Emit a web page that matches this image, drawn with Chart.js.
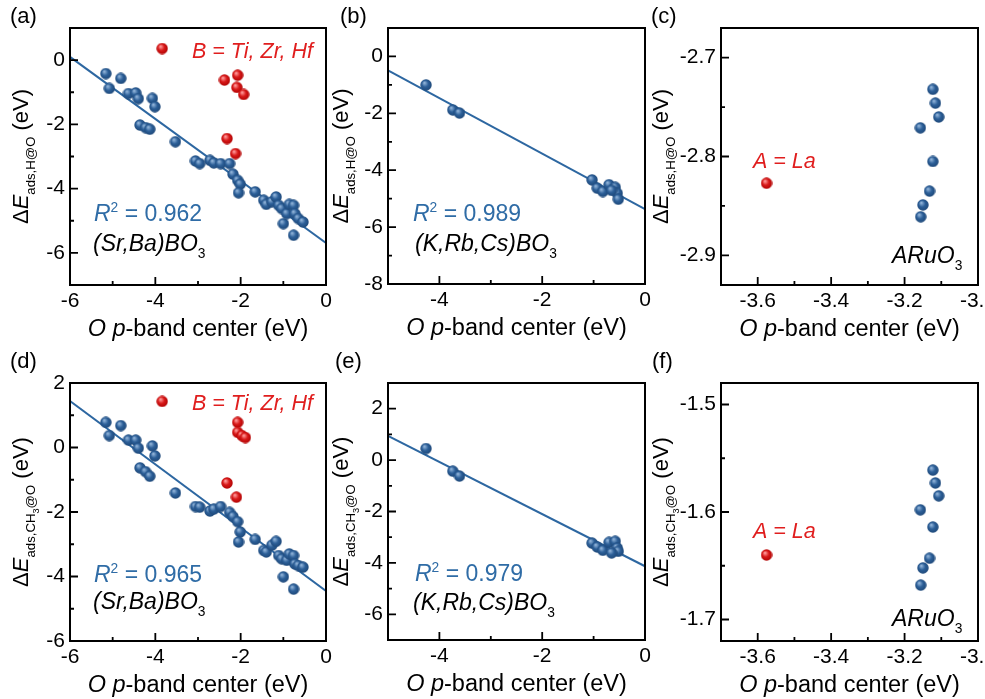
<!DOCTYPE html>
<html>
<head>
<meta charset="utf-8">
<script src="https://cdn.jsdelivr.net/npm/chart.js@4.4.1/dist/chart.umd.min.js"></script>
<style>
  html, body { margin: 0; padding: 0; background: #fff; }
  #wrap { position: relative; width: 985px; height: 699px; overflow: hidden; }
  #wrap canvas { position: absolute; left: 0; top: 0; }
</style>
</head>
<body>
<div id="wrap"></div>
<script>
// ================= DATA =================
// (a) H adsorption, (Sr,Ba)BO3
const aBlueX = [-5.16, -5.08, -4.81, -4.63, -4.46, -4.40, -4.07, -4.01, -4.36, -4.23, -4.13, -3.53, -3.06, -2.96, -2.72, -2.63, -2.47, -2.26, -2.18, -2.07, -2.01, -2.05, -1.66, -1.46, -1.40, -1.27, -1.17, -1.11, -1.04, -1.00, -0.92, -0.86, -0.76, -0.73, -0.65, -0.54, -0.76];
const aBlueY = [-0.42, -0.88, -0.57, -1.04, -1.02, -1.20, -1.19, -1.45, -2.02, -2.10, -2.15, -2.54, -3.14, -3.22, -3.12, -3.20, -3.22, -3.22, -3.55, -3.74, -3.86, -4.13, -4.10, -4.36, -4.49, -4.41, -4.26, -4.52, -4.62, -5.09, -4.78, -4.49, -4.52, -4.78, -4.93, -5.04, -5.45];
const aRedX = [-3.84, -2.38, -2.07, -2.09, -1.93, -2.32, -2.12];
const aRedY = [0.36, -0.62, -0.47, -0.85, -1.07, -2.44, -2.91];
const aFitX = [-6, 0];
const aFitY = [0.10, -5.69];

// (b) H adsorption, (K,Rb,Cs)BO3
const bBlueX = [-4.26, -3.74, -3.61, -1.03, -0.93, -0.82, -0.70, -0.58, -0.54, -0.52, -0.65];
const bBlueY = [-1.00, -1.88, -1.99, -4.34, -4.63, -4.75, -4.51, -4.60, -4.81, -5.02, -4.71];
const bFitX = [-5, 0];
const bFitY = [-0.49, -5.37];

// (c) H adsorption, ARuO3
const cBlueX = [-3.123, -3.116, -3.107, -3.157, -3.123, -3.132, -3.150, -3.156];
const cBlueY = [-2.732, -2.746, -2.760, -2.771, -2.805, -2.835, -2.849, -2.861];
const cRedX = [-3.576];
const cRedY = [-2.827];

// (d) CH3 adsorption, (Sr,Ba)BO3
const dBlueX = aBlueX;
const dBlueY = [0.78, 0.37, 0.68, 0.23, 0.23, -0.02, 0.05, -0.26, -0.63, -0.75, -0.89, -1.41, -1.83, -1.85, -1.97, -1.91, -1.83, -2.01, -2.14, -2.30, -2.62, -2.93, -2.85, -3.19, -3.24, -3.03, -2.91, -3.35, -3.45, -4.01, -3.50, -3.30, -3.35, -3.61, -3.66, -3.71, -4.39];
const dRedX = [-3.84, -2.07, -2.07, -1.97, -1.89, -2.32, -2.10];
const dRedY = [1.43, 0.78, 0.47, 0.37, 0.31, -1.10, -1.54];
const dFitX = [-6, 0];
const dFitY = [1.44, -4.45];

// (e) CH3 adsorption, (K,Rb,Cs)BO3
const eBlueX = bBlueX;
const eBlueY = [0.45, -0.43, -0.62, -3.23, -3.38, -3.51, -3.20, -3.16, -3.42, -3.55, -3.61];
const eFitX = [-5, 0];
const eFitY = [0.94, -4.13];

// (f) CH3 adsorption, ARuO3
const fBlueX = cBlueX;
const fBlueY = [-1.561, -1.573, -1.585, -1.598, -1.614, -1.643, -1.652, -1.668];
const fRedX = [-3.576];
const fRedY = [-1.640];

// tick values
const xTicksSrBa = [-6, -4, -2, 0],  xMinorSrBa = [-5, -3, -1];
const xTicksKRb = [-4, -2, 0],       xMinorKRb = [-3, -1];
const xTicksRu = [-3.6, -3.4, -3.2, -3.0], xMinorRu = [-3.5, -3.3, -3.1];
const yTicksA = [-6, -4, -2, 0],     yMinorA = [-5, -3, -1];
const yTicksB = [-8, -6, -4, -2, 0], yMinorB = [-7, -5, -3, -1];
const yTicksC = [-2.9, -2.8, -2.7],  yMinorC = [-2.85, -2.75];
const yTicksD = [-6, -4, -2, 0, 2],  yMinorD = [-5, -3, -1, 1];
const yTicksE = [-6, -4, -2, 0, 2],  yMinorE = [-5, -3, -1, 1];
const yTicksF = [-1.7, -1.6, -1.5],  yMinorF = [-1.65, -1.55];

// ================= HELPERS =================
const W = 985, H = 699;
const FONT = '"Liberation Sans", Arial, Helvetica, sans-serif';
const BLUE_TXT = '#2f6ca6';
const RED_TXT = '#e01e1e';
const LINE_COL = '#2d67a1';

function zip(xs, ys) {
    return xs.map((x, i) => ({ x: x, y: ys[i] }));
}

function sphere(light, base, dark, d) {
    const c = document.createElement('canvas');
    c.width = d; c.height = d;
    const g = c.getContext('2d');
    const grad = g.createRadialGradient(d * 0.36, d * 0.32, d * 0.04, d * 0.5, d * 0.5, d * 0.55);
    grad.addColorStop(0, light);
    grad.addColorStop(0.45, base);
    grad.addColorStop(1, dark);
    g.fillStyle = grad;
    g.beginPath();
    g.arc(d / 2, d / 2, d / 2 - 0.3, 0, Math.PI * 2);
    g.fill();
    return c;
}
const blueBall = sphere('#8fb2d8', '#2c5f98', '#1b4372', 12);
const redBall = sphere('#ff9a9a', '#d81818', '#a80000', 12);

// draws a line of mixed italic / sub / sup text; y is the baseline
function drawRich(ctx, parts, x, y, fs, color, align) {
    const items = parts.map(p => {
        let size = fs, dy = 0;
        if (p.sub) { size = fs * 0.6; dy = fs * 0.3; }
        if (p.sup) { size = fs * 0.6; dy = -fs * 0.42; }
        if (p.subsub) { size = fs * 0.42; dy = fs * 0.48; }
        const font = (p.it ? 'italic ' : '') + size.toFixed(1) + 'px ' + FONT;
        ctx.font = font;
        return { t: p.t, font: font, dy: dy, w: ctx.measureText(p.t).width };
    });
    const total = items.reduce((s, it) => s + it.w, 0);
    let cx = align === 'center' ? x - total / 2 : x;
    ctx.textAlign = 'left';
    ctx.textBaseline = 'alphabetic';
    ctx.fillStyle = color;
    items.forEach(it => {
        ctx.font = it.font;
        ctx.fillText(it.t, cx, y + it.dy);
        cx += it.w;
    });
}

const xTitle = [{ t: 'O p', it: true }, { t: '-band center (eV)' }];
const yTitleH = [{ t: 'Δ' }, { t: 'E', it: true }, { t: 'ads,H@O', sub: true }, { t: ' (eV)' }];
const yTitleCH3 = [{ t: 'Δ' }, { t: 'E', it: true }, { t: 'ads,CH', sub: true }, { t: '3', subsub: true }, { t: '@O', sub: true }, { t: ' (eV)' }];
const bTiZrHf = [{ t: 'B = Ti, Zr, Hf', it: true }];
const srBa = [{ t: '(Sr,Ba)BO', it: true }, { t: '3', sub: true }];
const kRbCs = [{ t: '(K,Rb,Cs)BO', it: true }, { t: '3', sub: true }];
const aLa = [{ t: 'A = La', it: true }];
const aRuO3 = [{ t: 'ARuO', it: true }, { t: '3', sub: true }];
function r2(v) { return [{ t: 'R', it: true }, { t: '2', sup: true }, { t: ' = ' + v }]; }

// ================= PANEL BUILDER =================
function makePanel(p) {
    const canvas = document.createElement('canvas');
    canvas.width = W; canvas.height = H;
    document.getElementById('wrap').appendChild(canvas);

    const datasets = [];
    if (p.blue) datasets.push({ data: p.blue, pointStyle: blueBall, pointRadius: 6, showLine: false });
    if (p.red) datasets.push({ data: p.red, pointStyle: redBall, pointRadius: 6, showLine: false });
    if (p.fit) datasets.push({ data: p.fit, showLine: true, borderColor: LINE_COL, borderWidth: 2, pointRadius: 0, fill: false });

    const fmt = v => p.dec ? v.toFixed(1) : String(Math.round(v));
    const tickFont = { family: FONT, size: 21 };

    const deco = {
        id: 'deco_' + p.label,
        afterDraw(chart) {
            const ctx = chart.ctx, a = chart.chartArea;
            const xs = chart.scales.x, ys = chart.scales.y;
            ctx.save();
            ctx.strokeStyle = '#000';
            ctx.lineWidth = 2;
            ctx.strokeRect(a.left, a.top, a.right - a.left, a.bottom - a.top);

            // inward ticks
            ctx.lineWidth = 1.8;
            ctx.beginPath();
            p.xMajor.forEach(v => { const px = xs.getPixelForValue(v); ctx.moveTo(px, a.bottom); ctx.lineTo(px, a.bottom - 8); });
            p.xMinor.forEach(v => { const px = xs.getPixelForValue(v); ctx.moveTo(px, a.bottom); ctx.lineTo(px, a.bottom - 4); });
            p.yMajor.forEach(v => { const py = ys.getPixelForValue(v); ctx.moveTo(a.left, py); ctx.lineTo(a.left + 8, py); });
            p.yMinor.forEach(v => { const py = ys.getPixelForValue(v); ctx.moveTo(a.left, py); ctx.lineTo(a.left + 4, py); });
            ctx.stroke();

            // axis titles
            drawRich(ctx, xTitle, (a.left + a.right) / 2, a.bottom + 43 + 8, 23.5, '#000', 'center');
            ctx.save();
            ctx.translate(p.yTitleX, (a.top + a.bottom) / 2);
            ctx.rotate(-Math.PI / 2);
            drawRich(ctx, p.yTitle, 0, 8, 22, '#000', 'center');
            ctx.restore();

            // panel label
            drawRich(ctx, [{ t: '(' + p.label + ')' }], p.labelX, p.labelY + 8, 22, '#000', 'left');

            // annotations
            p.texts.forEach(t => drawRich(ctx, t.parts, t.x, t.y + t.fs * 0.36, t.fs, t.color, 'left'));
            ctx.restore();
        }
    };

    new Chart(canvas, {
        type: 'scatter',
        data: { datasets: datasets },
        options: {
            responsive: false,
            animation: false,
            events: [],
            layout: { padding: { left: 0, top: p.area.t, right: W - p.area.r, bottom: 0 } },
            plugins: { legend: { display: false }, tooltip: { enabled: false } },
            scales: {
                x: {
                    type: 'linear', min: p.xMin, max: p.xMax,
                    afterBuildTicks: s => { s.ticks = p.xMajor.map(v => ({ value: v })); },
                    afterFit: s => { s.height = H - p.area.b; s.paddingLeft = 0; s.paddingRight = 0; },
                    grid: { display: false, drawTicks: false },
                    border: { display: false },
                    ticks: { font: tickFont, color: '#000', padding: 4, autoSkip: false, maxRotation: 0, callback: fmt }
                },
                y: {
                    type: 'linear', min: p.yMin, max: p.yMax,
                    afterBuildTicks: s => { s.ticks = p.yMajor.map(v => ({ value: v })); },
                    afterFit: s => { s.width = p.area.l; s.paddingTop = 0; s.paddingBottom = 0; },
                    grid: { display: false, drawTicks: false },
                    border: { display: false },
                    ticks: { font: tickFont, color: '#000', padding: 5, autoSkip: false, callback: fmt }
                }
            }
        },
        plugins: [deco]
    });
}

// ================= PANELS =================
makePanel({
    label: 'a', labelX: 10, labelY: 15,
    area: { l: 70, t: 28, r: 326, b: 285 },
    xMin: -6, xMax: 0, yMin: -7, yMax: 1,
    xMajor: xTicksSrBa, xMinor: xMinorSrBa, yMajor: yTicksA, yMinor: yMinorA,
    blue: zip(aBlueX, aBlueY), red: zip(aRedX, aRedY), fit: zip(aFitX, aFitY),
    yTitle: yTitleH, yTitleX: 20,
    texts: [
        { parts: bTiZrHf, x: 192, y: 50, fs: 21.5, color: RED_TXT },
        { parts: r2('0.962'), x: 94, y: 213, fs: 23, color: BLUE_TXT },
        { parts: srBa, x: 93, y: 243, fs: 23, color: '#000' }
    ]
});

makePanel({
    label: 'b', labelX: 340, labelY: 15,
    area: { l: 388, t: 28, r: 645, b: 284 },
    xMin: -5, xMax: 0, yMin: -8, yMax: 1,
    xMajor: xTicksKRb, xMinor: xMinorKRb, yMajor: yTicksB, yMinor: yMinorB,
    blue: zip(bBlueX, bBlueY), fit: zip(bFitX, bFitY),
    yTitle: yTitleH, yTitleX: 340,
    texts: [
        { parts: r2('0.989'), x: 413, y: 213, fs: 23, color: BLUE_TXT },
        { parts: kRbCs, x: 415, y: 243, fs: 23, color: '#000' }
    ]
});

makePanel({
    label: 'c', labelX: 651, labelY: 15, dec: true,
    area: { l: 721, t: 28, r: 978, b: 285 },
    xMin: -3.7, xMax: -3.0, yMin: -2.93, yMax: -2.67,
    xMajor: xTicksRu, xMinor: xMinorRu, yMajor: yTicksC, yMinor: yMinorC,
    blue: zip(cBlueX, cBlueY), red: zip(cRedX, cRedY),
    yTitle: yTitleH, yTitleX: 660,
    texts: [
        { parts: aLa, x: 753, y: 160, fs: 21.5, color: RED_TXT },
        { parts: aRuO3, x: 892, y: 255, fs: 23, color: '#000' }
    ]
});

makePanel({
    label: 'd', labelX: 10, labelY: 360,
    area: { l: 70, t: 383, r: 326, b: 641 },
    xMin: -6, xMax: 0, yMin: -6, yMax: 2,
    xMajor: xTicksSrBa, xMinor: xMinorSrBa, yMajor: yTicksD, yMinor: yMinorD,
    blue: zip(dBlueX, dBlueY), red: zip(dRedX, dRedY), fit: zip(dFitX, dFitY),
    yTitle: yTitleCH3, yTitleX: 20,
    texts: [
        { parts: bTiZrHf, x: 192, y: 402, fs: 21.5, color: RED_TXT },
        { parts: r2('0.965'), x: 94, y: 574, fs: 23, color: BLUE_TXT },
        { parts: srBa, x: 93, y: 601, fs: 23, color: '#000' }
    ]
});

makePanel({
    label: 'e', labelX: 335, labelY: 360,
    area: { l: 388, t: 383, r: 645, b: 640 },
    xMin: -5, xMax: 0, yMin: -7, yMax: 3,
    xMajor: xTicksKRb, xMinor: xMinorKRb, yMajor: yTicksE, yMinor: yMinorE,
    blue: zip(eBlueX, eBlueY), fit: zip(eFitX, eFitY),
    yTitle: yTitleCH3, yTitleX: 340,
    texts: [
        { parts: r2('0.979'), x: 415, y: 573, fs: 23, color: BLUE_TXT },
        { parts: kRbCs, x: 413, y: 602, fs: 23, color: '#000' }
    ]
});

makePanel({
    label: 'f', labelX: 652, labelY: 360, dec: true,
    area: { l: 721, t: 383, r: 978, b: 641 },
    xMin: -3.7, xMax: -3.0, yMin: -1.72, yMax: -1.48,
    xMajor: xTicksRu, xMinor: xMinorRu, yMajor: yTicksF, yMinor: yMinorF,
    blue: zip(fBlueX, fBlueY), red: zip(fRedX, fRedY),
    yTitle: yTitleCH3, yTitleX: 660,
    texts: [
        { parts: aLa, x: 753, y: 530, fs: 21.5, color: RED_TXT },
        { parts: aRuO3, x: 892, y: 618, fs: 23, color: '#000' }
    ]
});
</script>
</body>
</html>
